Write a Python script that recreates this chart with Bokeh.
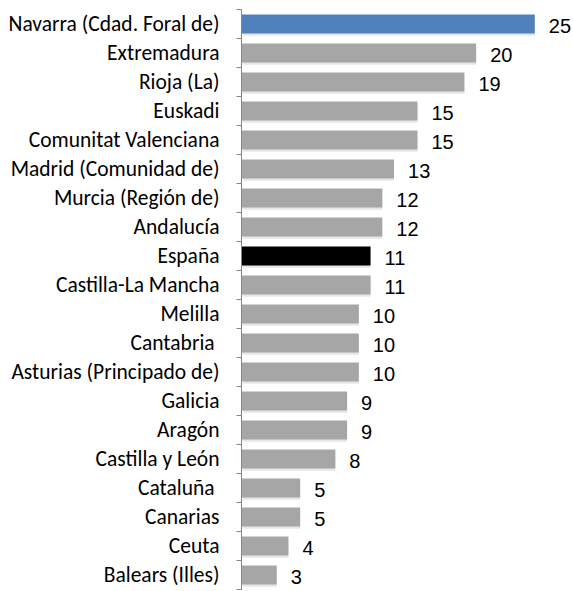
from bokeh.plotting import figure
from bokeh.models import Range1d, FixedTicker, ColumnDataSource
from bokeh.embed import file_html
from bokeh.resources import INLINE
from bokeh.core.properties import value

categories = [
    "Navarra (Cdad. Foral de)", "Extremadura", "Rioja (La)", "Euskadi",
    "Comunitat Valenciana", "Madrid (Comunidad de)", "Murcia (Región de)",
    "Andalucía", "España", "Castilla-La Mancha", "Melilla", "Cantabria ",
    "Asturias (Principado de)", "Galicia", "Aragón", "Castilla y León",
    "Cataluña ", "Canarias", "Ceuta", "Balears (Illes)",
]
values = [25, 20, 19, 15, 15, 13, 12, 12, 11, 11, 10, 10, 10, 9, 9, 8, 5, 5, 4, 3]

BLUE = "#4F81BD"
BLACK = "#000000"
GRAY = "#A6A6A6"

n = len(categories)
ys = [i + 0.5 for i in range(n)]
cols = []
for c in categories:
    if c.startswith("Navarra"):
        cols.append(BLUE)
    elif c == "España":
        cols.append(BLACK)
    else:
        cols.append(GRAY)

src = ColumnDataSource(dict(
    y=ys, v=values, c=cols, lab=[str(v) for v in values],
    ys=[y + 0.07 for y in ys],
))

p = figure(width=573, height=591, output_backend="svg", toolbar_location=None,
           x_range=Range1d(0, 28.3), y_range=Range1d(n, 0),
           min_border_left=241, min_border_right=0, min_border_top=9,
           min_border_bottom=2, x_axis_location=None)
p.outline_line_color = None
p.grid.visible = False
p.background_fill_color = "white"
p.border_fill_color = "white"

# soft shadow
p.hbar(y="ys", right="v", left=0.1, height=0.67, source=src,
       fill_color="#C8C8C8", fill_alpha=0.45, line_color=None)
p.hbar(y="y", right="v", left=0, height=0.65, source=src,
       fill_color="c", line_color=None)

p.text(x="v", y="y", text="lab", source=src, x_offset=14, y_offset=1.5,
       text_align="left", text_baseline="middle",
       text_font=value("Liberation Sans"), text_font_size="20px",
       text_color="black")

ax = p.yaxis[0]
ax.ticker = FixedTicker(ticks=ys, minor_ticks=list(range(n + 1)))
ax.major_label_overrides = {y: c for y, c in zip(ys, categories)}
ax.major_tick_out = 0
ax.major_tick_in = 0
ax.minor_tick_out = 5
ax.minor_tick_in = 0
ax.minor_tick_line_color = "#868686"
ax.axis_line_color = "#868686"
ax.major_label_standoff = 17
ax.major_label_text_font = "Carlito, Lato"
ax.major_label_text_font_size = "21.5px"
ax.major_label_text_color = "black"

open("out.html", "w").write(file_html(p, INLINE))
